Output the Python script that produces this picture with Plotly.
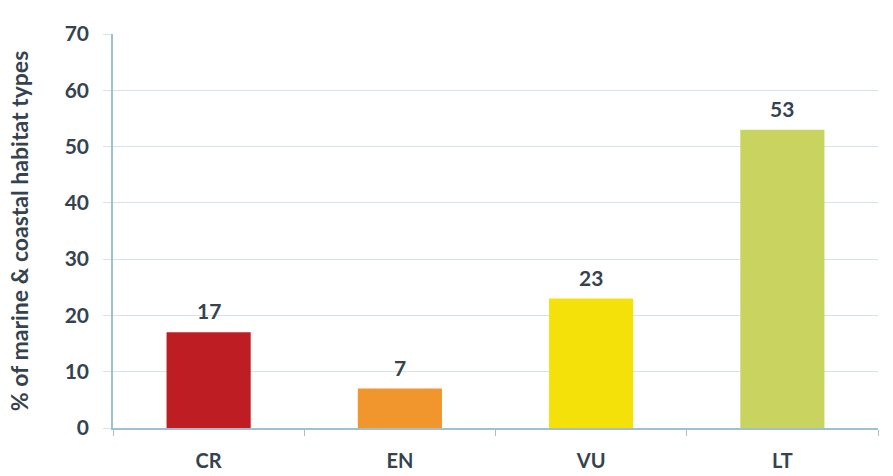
import plotly.graph_objects as go

# Threat categories and share of marine & coastal habitat types (%)
categories = ["CR", "EN", "VU", "LT"]
values = [17, 7, 23, 53]
bar_colors = ["#BE1E23", "#F0962D", "#F5E10A", "#C8D45F"]
y_ticks = [0, 10, 20, 30, 40, 50, 60, 70]

text_color = "#34434E"
grid_color = "#D3E3EC"
axis_color = "#9FBFD3"
font_family = "Lato, 'Open Sans', sans-serif"

fig = go.Figure(
    go.Bar(
        x=categories,
        y=values,
        marker=dict(color=bar_colors, line=dict(width=0)),
        cliponaxis=False,
        width=0.44,
    )
)

# Value labels sitting above each bar
for cat, val in zip(categories, values):
    fig.add_annotation(
        x=cat,
        y=val,
        text=str(val),
        showarrow=False,
        yanchor="bottom",
        yshift=7,
        font=dict(family=font_family, size=21, color=text_color, weight="bold"),
    )

fig.update_layout(
    width=893,
    height=476,
    margin=dict(l=113, r=15, t=34, b=48),
    paper_bgcolor="white",
    plot_bgcolor="white",
    showlegend=False,
    font=dict(family=font_family, color=text_color),
)

fig.update_xaxes(
    automargin=False,
    showline=True,
    linecolor=axis_color,
    linewidth=1.5,
    ticks="outside",
    tickson="boundaries",
    ticklen=6,
    tickcolor=axis_color,
    ticklabelstandoff=14,
    tickfont=dict(family=font_family, size=20, color=text_color, weight="bold"),
    showgrid=False,
)

fig.update_yaxes(
    automargin=False,
    range=[0, 70],
    tickvals=y_ticks,
    showline=True,
    linecolor=axis_color,
    linewidth=1.5,
    ticks="outside",
    ticklen=8,
    tickcolor=grid_color,
    ticklabelstandoff=10,
    showgrid=True,
    gridcolor=grid_color,
    gridwidth=1.2,
    zeroline=False,
    tickfont=dict(family=font_family, size=21, color=text_color, weight="bold"),
    title=dict(
        text="% of marine & coastal habitat types",
        font=dict(family=font_family, size=23, color=text_color, weight="bold"),
        standoff=30,
    ),
)

fig.write_html("out.html")
